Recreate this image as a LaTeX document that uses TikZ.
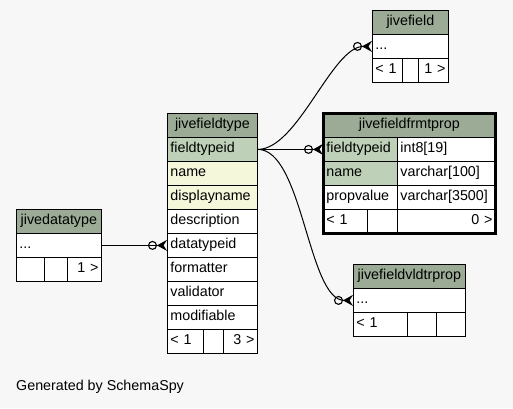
\documentclass[tikz,border=0pt]{standalone}
\usepackage{fontspec}
\setmainfont{Liberation Sans}
\usepackage{tikz}
\usetikzlibrary{arrows.meta}

\definecolor{bgfill}{HTML}{F7F7F7}
\definecolor{hdrfill}{HTML}{9BAB96}
\definecolor{pkfill}{HTML}{BED1B8}
\definecolor{idxfill}{HTML}{F4F7DA}

\tikzset{
    cell/.style={draw=black, line width=0.8pt, fill=white, anchor=north west,
        minimum height=24pt, inner xsep=3pt, inner ysep=0pt,
        text height=10pt, text depth=3pt, align=left, font=\fontsize{14.3}{16}\selectfont},
    hdr/.style={cell, fill=hdrfill, align=center},
    pk/.style={cell, fill=pkfill},
    idx/.style={cell, fill=idxfill},
    rcell/.style={cell, align=right},
    rel/.style={draw, line width=1pt,
        -{Circle[open,length=9pt,width=9pt,line width=1.1pt] Stealth[reversed,length=10pt,width=11pt,inset=3.5pt]}}
}

\begin{document}
\begin{tikzpicture}[x=1pt,y=-1pt]
    \fill[bgfill] (0,0) rectangle (513,408);
    \useasboundingbox (0,0) rectangle (513,408);

    % jivefieldtype
    \node[hdr, text width=84pt] (ft-h) at (167,113) {jivefieldtype};
    \foreach \txt/\sty [count=\i] in {fieldtypeid/pk, name/idx, displayname/idx,
        description/cell, datatypeid/cell, formatter/cell, validator/cell, modifiable/cell} {
        \node[\sty, text width=84pt] (ft-\i) at (167,{113+24*\i}) {\txt};
    }
    \node[cell, text width=30pt] (ft-f1) at (167,329) {< 1};
    \node[cell, text width=14pt] (ft-f2) at (203,329) {};
    \node[rcell, text width=28pt] (ft-f3) at (223,329) {3 >};

    % jivefieldfrmtprop
    \node[hdr, text width=166pt] (fp-h) at (323,113) {jivefieldfrmtprop};
    \foreach \txt/\sty/\typ [count=\i] in {fieldtypeid/pk/int8[19], name/pk/varchar[100],
        propvalue/cell/varchar[3500]} {
        \node[\sty, text width=68pt] (fp-\i) at (323,{113+24*\i}) {\txt};
        \node[cell, text width=92pt] (fp-t\i) at (397,{113+24*\i}) {\typ};
    }
    \node[cell, text width=38pt] (fp-f1) at (323,209) {< 1};
    \node[cell, text width=24pt] (fp-f2) at (367,209) {};
    \node[rcell, text width=92pt] (fp-f3) at (397,209) {0 >};
    \draw[line width=3pt] (fp-h.north west) rectangle (fp-f3.south east);

    % jivefield
    \node[hdr, text width=70pt] (jf-h) at (372,10) {jivefield};
    \node[cell, text width=70pt] (jf-r) at (372,34) {...};
    \node[cell, text width=24pt] (jf-f1) at (372,58) {< 1};
    \node[cell, text width=10pt] (jf-f2) at (402,58) {};
    \node[rcell, text width=24pt] (jf-f3) at (418,58) {1 >};

    % jivefieldvldtrprop
    \node[hdr, text width=106pt] (vp-h) at (353,264) {jivefieldvldtrprop};
    \node[cell, text width=106pt] (vp-r) at (353,288) {...};
    \node[cell, text width=48pt] (vp-f1) at (353,312) {< 1};
    \node[cell, text width=23pt] (vp-f2) at (407,312) {};
    \node[cell, text width=23pt] (vp-f3) at (436,312) {};

    % jivedatatype
    \node[hdr, text width=79pt] (dt-h) at (16,209) {jivedatatype};
    \node[cell, text width=79pt] (dt-r) at (16,233) {...};
    \node[cell, text width=22pt] (dt-f1) at (16,257) {};
    \node[cell, text width=17pt] (dt-f2) at (44,257) {};
    \node[rcell, text width=28pt] (dt-f3) at (67,257) {1 >};

    % relations
    \draw[rel] (dt-r.east) -- (ft-5.west);
    \draw[rel] (ft-1.east) -- (fp-1.west);
    \draw[rel] (ft-1.east) .. controls +(40,0) and +(-40,0) .. (jf-r.west);
    \draw[rel] (ft-1.east) .. controls +(45,0) and +(-45,0) .. (vp-r.west);

    \node[anchor=west, inner sep=0pt, font=\fontsize{14.3}{16}\selectfont] (gen) at (16,387) {Generated by SchemaSpy};
\end{tikzpicture}
\end{document}
